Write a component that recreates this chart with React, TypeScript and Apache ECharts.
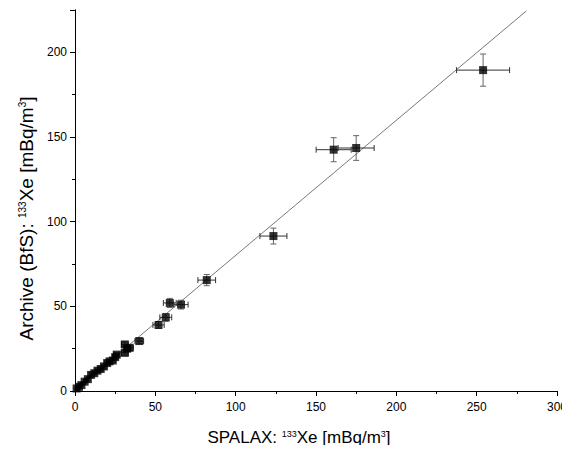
import React, { useEffect, useRef } from "react";
import * as echarts from "echarts";

const xValues = [1.0, 2.5, 4.0, 6.0, 8.0, 10.0, 12.0, 14.0, 16.0, 18.0, 20.0, 21.5, 23.5, 25.0, 26.0, 31.0, 31.0, 32.5, 34.0, 40.0, 52.0, 56.5, 59.0, 66.0, 82.0, 123.5, 161.0, 175.0, 254.0];
const yValues = [1.5, 2.5, 3.5, 5.5, 7.0, 9.5, 10.5, 12.0, 13.0, 14.5, 16.5, 17.5, 18.0, 20.0, 21.5, 22.5, 27.5, 25.0, 25.5, 29.5, 39.0, 43.5, 52.0, 51.0, 65.5, 91.5, 142.5, 143.5, 189.5];
const xErrors = [0.5, 0.6, 0.6, 0.7, 0.8, 0.9, 1.0, 1.1, 1.2, 1.3, 1.4, 1.5, 1.6, 1.7, 1.8, 2.1, 2.1, 2.2, 2.3, 2.7, 3.5, 3.7, 4.0, 4.4, 5.5, 8.4, 10.9, 11.2, 16.5];
const yErrors = [0.4, 0.4, 0.5, 0.5, 0.6, 0.7, 0.8, 0.8, 0.9, 1.0, 1.0, 1.1, 1.1, 1.2, 1.2, 1.3, 1.5, 1.4, 1.4, 1.6, 2.0, 2.3, 2.7, 2.6, 3.3, 4.7, 7.1, 7.3, 9.5];
const fitLine = [
  [0, 0.3],
  [281, 224.5],
];
const xTicks = { min: 0, max: 300, interval: 50 };
const yTicks = { min: 0, max: 225, interval: 50, minor: 25, lastLabel: 200 };

const FONT = "'Liberation Sans', Arial, sans-serif";

export default function App() {
  const ref = useRef<HTMLDivElement>(null);
  useEffect(() => {
    if (!ref.current) return;
    const chart = echarts.init(ref.current, undefined, { renderer: "svg" });
    const points = xValues.map((x, i) => [x, yValues[i]]);
    const errData = xValues.map((x, i) => [x, yValues[i], xErrors[i], yErrors[i]]);
    const richName = (size: number) => ({
      n: { fontSize: size, fontFamily: FONT, color: "#000", verticalAlign: "bottom" as const },
      s: { fontSize: Math.round(size * 0.55), fontFamily: FONT, color: "#000", verticalAlign: "top" as const },
    });
    chart.setOption({
      animation: false,
      backgroundColor: "#fff",
      grid: { left: 75, right: 13, top: 10, bottom: 62 },
      xAxis: {
        type: "value",
        min: xTicks.min,
        max: xTicks.max,
        interval: xTicks.interval,
        splitLine: { show: false },
        axisLine: { lineStyle: { color: "#000", width: 1 } },
        axisTick: { length: 5, lineStyle: { color: "#000" } },
        minorTick: { show: true, splitNumber: 2, length: 3, lineStyle: { color: "#000" } },
        axisLabel: { fontSize: 12, fontFamily: FONT, color: "#000", margin: 10 },
        name: "{n|SPALAX: }{s|133}{n|Xe [mBq/m}{s|3}{n|]}",
        nameLocation: "middle",
        nameGap: 38,
        nameTextStyle: { rich: richName(17), padding: [0, 34, 0, 0] },
      },
      yAxis: [
        {
          type: "value",
          position: "left",
          min: yTicks.min,
          max: yTicks.max,
          interval: yTicks.minor,
          splitLine: { show: false },
          axisLine: { show: true, lineStyle: { color: "#000", width: 1 } },
          axisTick: { length: 3, lineStyle: { color: "#000" } },
          axisLabel: { show: false },
        },
        {
          type: "value",
          position: "left",
          offset: 0,
          min: yTicks.min,
          max: yTicks.max,
          interval: yTicks.interval,
          splitLine: { show: false },
          axisLine: { show: true, lineStyle: { color: "#000", width: 1 } },
          axisTick: { length: 5, lineStyle: { color: "#000" } },
          axisLabel: {
            fontSize: 12,
            fontFamily: FONT,
            color: "#000",
            margin: 8,
            formatter: (v: number) => (v > yTicks.lastLabel ? "" : String(v)),
          },
          name: "{n|Archive (BfS): }{s|133}{n|Xe [mBq/m}{s|3}{n|]}",
          nameLocation: "middle",
          nameGap: 37,
          nameTextStyle: { rich: richName(19), padding: [0, 36, 0, 0] },
        },
      ],
      series: [
        {
          type: "line",
          data: fitLine,
          yAxisIndex: 1,
          symbol: "none",
          lineStyle: { color: "#555", width: 0.8 },
          silent: true,
          z: 1,
        },
        {
          type: "custom",
          yAxisIndex: 1,
          data: errData,
          z: 2,
          renderItem: (params: any, api: any) => {
            const x = api.value(0);
            const y = api.value(1);
            const ex = api.value(2);
            const ey = api.value(3);
            const c = api.coord([x, y]);
            const l = api.coord([x - ex, y]);
            const r = api.coord([x + ex, y]);
            const t = api.coord([x, y + ey]);
            const b = api.coord([x, y - ey]);
            const cap = 3;
            const hs = { stroke: "#333", lineWidth: 1 };
            const vs = { stroke: "#666", lineWidth: 1 };
            return {
              type: "group",
              children: [
                { type: "line", shape: { x1: l[0], y1: c[1], x2: r[0], y2: c[1] }, style: hs },
                { type: "line", shape: { x1: l[0], y1: c[1] - cap, x2: l[0], y2: c[1] + cap }, style: hs },
                { type: "line", shape: { x1: r[0], y1: c[1] - cap, x2: r[0], y2: c[1] + cap }, style: hs },
                { type: "line", shape: { x1: c[0], y1: t[1], x2: c[0], y2: b[1] }, style: vs },
                { type: "line", shape: { x1: c[0] - cap, y1: t[1], x2: c[0] + cap, y2: t[1] }, style: vs },
                { type: "line", shape: { x1: c[0] - cap, y1: b[1], x2: c[0] + cap, y2: b[1] }, style: vs },
              ],
            };
          },
        },
        {
          type: "scatter",
          yAxisIndex: 1,
          data: points,
          symbol: "rect",
          symbolSize: 8,
          itemStyle: { color: "#000" },
          z: 3,
        },
      ],
    });
    return () => chart.dispose();
  }, []);
  return <div ref={ref} style={{ width: 570, height: 453, margin: -8 }} />;
}
